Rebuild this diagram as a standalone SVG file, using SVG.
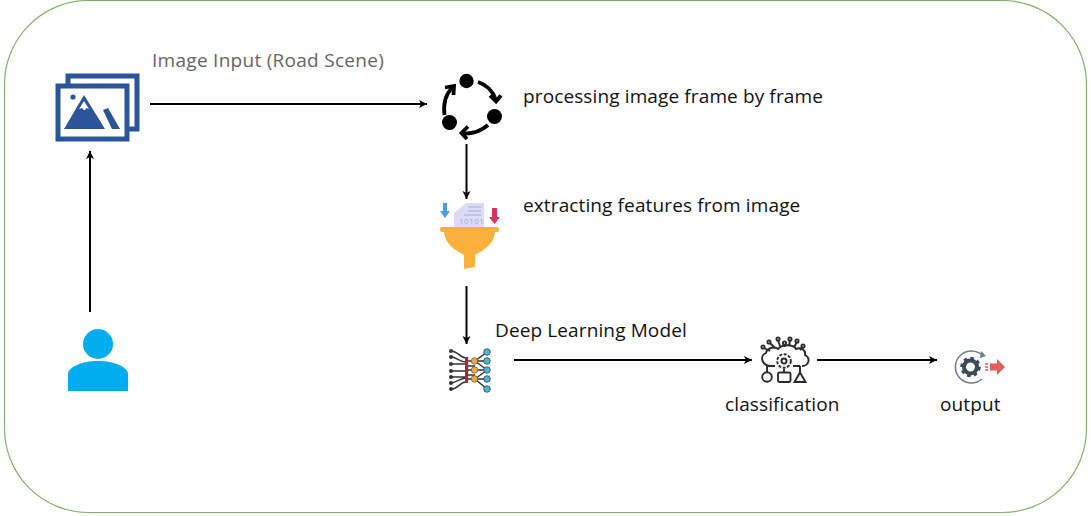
<svg xmlns="http://www.w3.org/2000/svg" width="1091" height="516" viewBox="0 0 1091 516">
<defs>
<marker id="arr" markerUnits="userSpaceOnUse" markerWidth="9" markerHeight="9" refX="8" refY="4.500" orient="auto"><path d="M0 0.500L8 4.500L0 8.500L2 4.500Z" fill="#000"/></marker>
</defs>
<style>
text{font-family:"Open Sans","Noto Sans","Liberation Sans",sans-serif;font-size:19px;letter-spacing:.12px;fill:#111}
.c{fill:none;stroke:#000;stroke-width:2;marker-end:url(#arr)}
.k{fill:none;stroke:#2a2a2a;stroke-width:1.900}
.n{fill:none;stroke:#333;stroke-width:1.500}
</style>
<rect id="frame" x="4.500" y="0.500" width="1082" height="512" rx="84" fill="#fff" stroke="#82b366" stroke-width="1.200"/>
<g id="connectors">
<path class="c" d="M150 104H427"/>
<path class="c" d="M90 312V151"/>
<path class="c" d="M466.500 144V199"/>
<path class="c" d="M466.500 286V344"/>
<path class="c" d="M514 360H752"/>
<path class="c" d="M817 360H937"/>
</g>
<g id="image-input">
<path d="M68 84V76H137V129H129" fill="none" stroke="#2b559b" stroke-width="5"/>
<rect x="58" y="86" width="69" height="53" fill="#fff" stroke="#2b559b" stroke-width="5"/>
<circle cx="73" cy="97" r="2.600" fill="#2b559b"/>
<path d="M64 129L84 95L105 129Z" fill="#2b559b"/>
<path d="M79 109L84 101L89 109L86.500 108L84.500 110.500L82 108Z" fill="#fff"/>
<path d="M103 110L108 108L120 129H112Z" fill="#2b559b"/>
<text x="152" y="67" style="fill:#666;letter-spacing:.28px">Image Input (Road Scene)</text>
</g>
<g id="user">
<circle cx="98" cy="344" r="15" fill="#00aeef"/>
<path d="M68 391V374C68 367 82 361 98 361C114 361 128 367 128 374V391Z" fill="#00aeef"/>
</g>
<g id="processing">
<circle cx="466.500" cy="81" r="7.200" fill="#000"/>
<circle cx="494.500" cy="116.500" r="7.500" fill="#000"/>
<circle cx="449.500" cy="122.500" r="7.500" fill="#000"/>
<g fill="none" stroke="#000" stroke-width="3.800">
<path d="M478 82C487 85 493 91 496 100"/><path d="M490 95.500L496 101.500L501 95.500"/>
<path d="M488 125C480 132 472 134 463 133.500"/><path d="M468 126.500L461.500 133L467 139"/>
<path d="M444.500 115C443 103 446 94 452 88"/><path d="M445 87.500L454 86L453.500 95"/>
</g>
<text x="523" y="103">processing image frame by frame</text>
</g>
<g id="features">
<path d="M454 213L466 203H484V228H454Z" fill="#dcdcf8"/>
<path d="M468 207H481M468 211H481M464 215H481" stroke="#a8a8d8" stroke-width="1"/>
<text x="459" y="224" style="font-size:8px;fill:#a8a8d0;letter-spacing:.5px">10101</text>
<path d="M443 203H447V211H450L445 218L440 211H443Z" fill="#4a9bf0"/>
<path d="M492 208H497V217H500L494.500 224L489 217H492Z" fill="#d9345f"/>
<path d="M441 227H498Q500 229 498 232H495C494 244 484 250 475 255V267L464 269V255C455 250 445 244 444 232H441Q439 229 441 227Z" fill="#fdb03c"/>
<text x="523" y="212">extracting features from image</text>
</g>
<g id="deep-learning">
<g class="n">
<path d="M451 351C458 351 460 358 466 358M451 357C456 357 460 362 466 362M451 364H466M451 371H466M451 377H466M451 383C456 383 460 378 466 378M451 389C458 389 460 382 466 382"/>
<path d="M466 361H475M466 366H475M466 370H475M466 375H475M466 379H475M475 361L487 352M475 361H487M475 370H487M475 379H487M475 379L487 389M475 361L487 370M475 379L487 370"/>
</g>
<g fill="#333"><circle cx="451" cy="351" r="2"/><circle cx="451" cy="357" r="2"/><circle cx="451" cy="364" r="2"/><circle cx="451" cy="371" r="2"/><circle cx="451" cy="377" r="2"/><circle cx="451" cy="383" r="2"/><circle cx="451" cy="389" r="2"/></g>
<rect x="465" y="357" width="3.200" height="26" fill="#a32a45"/>
<g fill="#f5a640" stroke="#333" stroke-width=".5"><circle cx="474.500" cy="361" r="3.300"/><circle cx="474.500" cy="370" r="3.300"/><circle cx="474.500" cy="379" r="3.300"/></g>
<g fill="#4fb3d9" stroke="#333" stroke-width=".7"><circle cx="487" cy="352" r="3.300"/><circle cx="487" cy="361" r="3.300"/><circle cx="487" cy="370" r="3.300"/><circle cx="487" cy="379" r="3.300"/><circle cx="487" cy="389" r="3.300"/></g>
<text x="495" y="337">Deep Learning Model</text>
</g>
<g id="classification">
<path class="k" d="M771 366C762 366 759 356 766 353C767 348 774 346 778 349C782 344 793 344 796 349C801 347 806 350 805 355C811 358 809 366 802 366"/>
<circle class="k" cx="784" cy="361" r="6.800" stroke-dasharray="3 1.500"/><circle class="k" cx="784" cy="361" r="2.500"/>
<path class="k" d="M767 366V372M784 369V372M800 366V372M767 366H775M793 366H800"/>
<circle class="k" cx="767" cy="377" r="4.800"/>
<rect class="k" x="778" y="372.500" width="12.500" height="9.500" rx="1.500"/>
<path class="k" d="M800 372.500L805.500 382H794.500Z"/>
<path class="k" d="M770 351L764 348M775 348L770 343M780 346L778 340M785 347V344M789 346L790 340M794 347L797 342M800 350L803 347" stroke-width="1.300"/>
<g class="k" stroke-width="1.300"><circle cx="763" cy="347" r="1.600"/><circle cx="769" cy="342" r="1.600"/><circle cx="778" cy="339" r="1.600"/><circle cx="784.500" cy="343" r="1.600"/><circle cx="790" cy="339" r="1.600"/><circle cx="797" cy="341" r="1.600"/><circle cx="803" cy="346" r="1.600"/></g>
<text x="725" y="411">classification</text>
</g>
<g id="output">
<path d="M983 356A16 16 0 1 0 982 379" fill="none" stroke="#6e7f8d" stroke-width="1.500"/>
<path d="M981 351L986 356L980 358Z" fill="#6e7f8d"/>
<circle cx="970.500" cy="367" r="6.500" fill="none" stroke="#3a4a5c" stroke-width="4"/>
<circle cx="970.500" cy="367" r="9" fill="none" stroke="#3a4a5c" stroke-width="2.500" stroke-dasharray="3.500 3.500"/>
<path d="M985 364H988M985 367H988M985 370H988" stroke="#e35d5d" stroke-width="1.500"/>
<path d="M990 363.500H997V359L1005 367L997 375V370.500H990Z" fill="#e35d5d"/>
<text x="940" y="411">output</text>
</g>
</svg>
